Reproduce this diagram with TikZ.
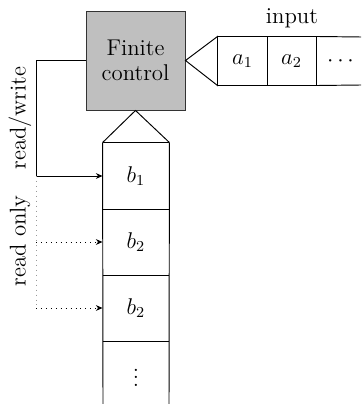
\documentclass[tikz,border=0pt]{standalone}
\usetikzlibrary{arrows.meta}
\begin{document}
\begin{tikzpicture}[x=0.5263pt,y=-0.5263pt,
  line width=0.5pt, font=\large,
  ctrl/.style={draw=black!80, fill=black!25, minimum width=52.1pt, minimum height=52.1pt, align=center, inner sep=0pt},
  incell/.style={minimum width=25.8pt, minimum height=25.3pt, inner sep=0pt},
  wcell/.style={minimum width=34.7pt, minimum height=34.7pt, inner sep=0pt},
  tip/.style={-{Stealth[length=3.5pt,width=3pt]}},
  sparse/.style={dash pattern=on 0.4pt off 2.2pt},
  lbl/.style={rotate=90, inner sep=0pt}]
\useasboundingbox (0,0) rectangle (361,404);
% finite control
\node[ctrl] (fc) at (135.5,60.5) {Finite\\[-1pt]control};
% input tape
\node[incell] (a1) at (242.5,61) {$a_1$};
\node[incell] (a2) at (291.5,61) {$a_2$};
\node[incell] (a3) at (340.5,61) {$\cdots$};
\coordinate (ine) at (361,37);
\coordinate (ise) at (361,85);
\draw (a1.north west) -- (a2.north east) -- (ine);
\draw (a1.south west) -- (a2.south east) -- (ise);
\draw (a1.north east) -- (a1.south east);
\draw (a2.north east) -- (a2.south east);
\draw (a1.north west) -- (fc.east) -- (a1.south west) -- cycle;
\node (inp) at (292,18) {input};
% work tape
\node[wcell] (b1) at (136,176) {$b_1$};
\node[wcell] (b2) at (136,242) {$b_2$};
\node[wcell] (b3) at (136,308) {$b_2$};
\node[wcell] (b4) at (136,372) {$\vdots$};
\coordinate (bsw) at (103,404);
\coordinate (bse) at (169,404);
\draw (b1.north west) -- (bsw);
\draw (b1.north east) -- (bse);
\draw (b1.north west) -- (b1.north east);
\draw (b1.south west) -- (b1.south east);
\draw (b2.south west) -- (b2.south east);
\draw (b3.south west) -- (b3.south east);
\draw (b1.north west) -- (fc.south) -- (b1.north east);
% heads
\coordinate (rwc) at (36,176);
\coordinate (roc) at (36,308);
\draw[tip] (fc.west) -| (rwc) -- (b1.west);
\draw[sparse, black!40] (rwc) -- (roc);
\draw[sparse, tip] (rwc |- b2.west) -- (b2.west);
\draw[sparse, tip] (roc) -- (b3.west);
\node[lbl] (lrw) at (20,118) {read/write};
\node[lbl] (lro) at (20,241) {read only};
\end{tikzpicture}
\end{document}
